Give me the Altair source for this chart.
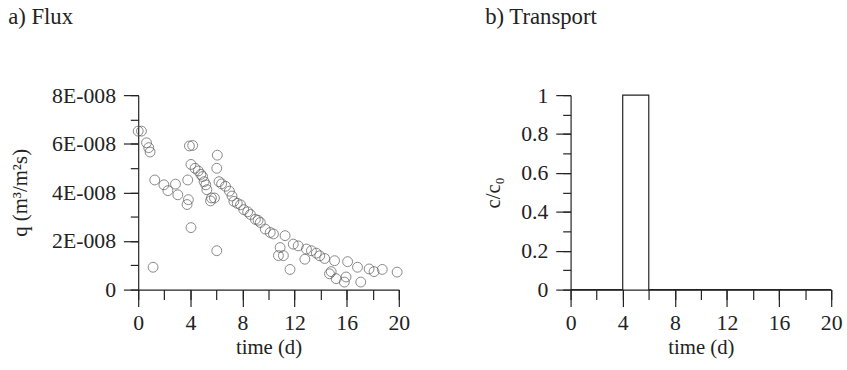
import altair as alt
import pandas as pd

# Measured flux q (m3/m2/s) against time (d)
flux_time = [0.0, 0.25, 0.64, 0.81, 0.91, 1.14, 1.27, 1.97, 2.28, 2.86,
             3.04, 3.75, 3.85, 3.80, 3.93, 4.18, 4.05, 4.05, 4.36, 4.61,
             4.81, 4.94, 5.06, 5.19, 5.27, 5.55, 5.85, 5.62, 6.07, 6.03,
             6.03, 6.20, 6.40, 6.70, 7.00, 7.20, 7.34, 7.60, 7.85, 8.10,
             8.40, 8.61, 8.99, 9.20, 9.37, 9.75, 10.13, 10.38, 10.76, 10.89,
             11.14, 11.27, 11.65, 11.90, 12.28, 12.79, 12.91, 13.29, 13.67, 13.93,
             14.31, 14.68, 14.81, 15.07, 15.19, 15.82, 15.95, 16.07, 16.83, 17.08,
             17.72, 18.10, 18.73, 19.87]
flux_q = [6.52e-8, 6.52e-8, 6.04e-8, 5.84e-8, 5.66e-8, 0.92e-8, 4.51e-8, 4.31e-8, 4.07e-8, 4.34e-8,
          3.90e-8, 3.50e-8, 3.70e-8, 4.51e-8, 5.91e-8, 5.93e-8, 5.15e-8, 2.55e-8, 4.99e-8, 4.88e-8,
          4.74e-8, 4.65e-8, 4.44e-8, 4.31e-8, 4.11e-8, 3.65e-8, 3.77e-8, 3.77e-8, 5.53e-8, 4.99e-8,
          1.60e-8, 4.44e-8, 4.35e-8, 4.25e-8, 4.05e-8, 3.85e-8, 3.63e-8, 3.55e-8, 3.49e-8, 3.29e-8,
          3.20e-8, 3.09e-8, 2.89e-8, 2.85e-8, 2.76e-8, 2.49e-8, 2.35e-8, 2.29e-8, 1.40e-8, 1.73e-8,
          1.40e-8, 2.22e-8, 0.83e-8, 1.87e-8, 1.80e-8, 1.25e-8, 1.67e-8, 1.60e-8, 1.50e-8, 1.39e-8,
          1.28e-8, 0.65e-8, 0.74e-8, 1.19e-8, 0.45e-8, 0.31e-8, 0.52e-8, 1.15e-8, 0.92e-8, 0.31e-8,
          0.85e-8, 0.74e-8, 0.83e-8, 0.72e-8]

# Tracer pulse c/c0 against time (d)
pulse_time = [0, 4, 4, 6, 6, 20]
pulse_c = [0, 0, 1, 1, 0, 0]

# Axis tick positions: every value gets a short tick, labelled ones a long tick
time_minor = list(range(0, 21, 2))
time_major = list(range(0, 21, 4))
q_minor = [i * 1e-8 for i in range(9)]
q_major = [i * 1e-8 for i in range(0, 9, 2)]
c_minor = [i / 10 for i in range(11)]
c_major = [i / 10 for i in range(0, 11, 2)]

FONT = "Liberation Serif"
INK = "#222222"
PANEL_W, PANEL_H = 264, 197

time_scale = alt.Scale(domain=[0, 20], nice=False)


def minor_axis(orient, values, size):
    return alt.Axis(orient=orient, values=values, tickSize=size, labels=False,
                    title=None, grid=False, domain=False)


def major_axis(orient, values, size, title, **kw):
    return alt.Axis(orient=orient, values=values, tickSize=size, title=title,
                    grid=False, labelOverlap=False, labelFlush=False, **kw)


def panel(data, field, scale, mark, q_min, q_maj, y_title, y_kw, y_title_pad,
          title, title_dx):
    minor = alt.Chart(data).mark_point(opacity=0).encode(
        x=alt.X("t:Q", scale=time_scale, axis=minor_axis("bottom", time_minor, 10)),
        y=alt.Y(f"{field}:Q", scale=scale, axis=minor_axis("left", q_min, 8)),
    )
    major = alt.Chart(data, mark=alt.MarkDef(**mark)).encode(
        x=alt.X("t:Q", scale=time_scale, axis=major_axis(
            "bottom", time_major, 17, "time (d)", labelPadding=6, titlePadding=4)),
        y=alt.Y(f"{field}:Q", scale=scale, axis=major_axis(
            "left", q_maj, 15, y_title, labelPadding=8, titlePadding=y_title_pad, **y_kw)),
    )
    return alt.layer(minor, major).resolve_axis(x="independent", y="independent").properties(
        width=PANEL_W, height=PANEL_H,
        title=alt.TitleParams(title, anchor="start", frame="bounds", dx=title_dx,
                              baseline="bottom", offset=33),
    )


flux = pd.DataFrame({"t": flux_time, "q": flux_q})
pulse = pd.DataFrame({"t": pulse_time, "c": pulse_c})

flux_chart = panel(
    flux, "q", alt.Scale(domain=[0, 8e-8], nice=False),
    dict(type="point", shape="circle", filled=False, size=100, stroke="#555555", strokeWidth=1),
    q_minor, q_major, "q (m³/m²s)",
    dict(labelExpr="datum.value == 0 ? '0' : round(datum.value * 1e8) + 'E-008'"),
    21, "a) Flux", -2,
)

pulse_chart = panel(
    pulse, "c", alt.Scale(domain=[0, 1], nice=False),
    dict(type="line", color=INK, strokeWidth=1.2),
    c_minor, c_major, "c/c₀",
    dict(format=".1~f"),
    18, "b) Transport", 3,
)

chart = alt.hconcat(flux_chart, pulse_chart, spacing=73).properties(
    padding={"left": 8, "top": 4, "right": 5, "bottom": 5},
    background="white",
).configure_view(stroke=None).configure_axis(
    domainColor=INK, tickColor=INK, domainWidth=1.2, tickWidth=1.2,
    labelFont=FONT, labelFontSize=22, labelColor=INK,
    titleFont=FONT, titleFontSize=21, titleColor=INK, titleFontWeight="normal",
).configure_title(
    font=FONT, fontSize=23, color=INK, fontWeight="normal",
)

chart.save("out.html", embed_options={"renderer": "svg", "actions": False})
